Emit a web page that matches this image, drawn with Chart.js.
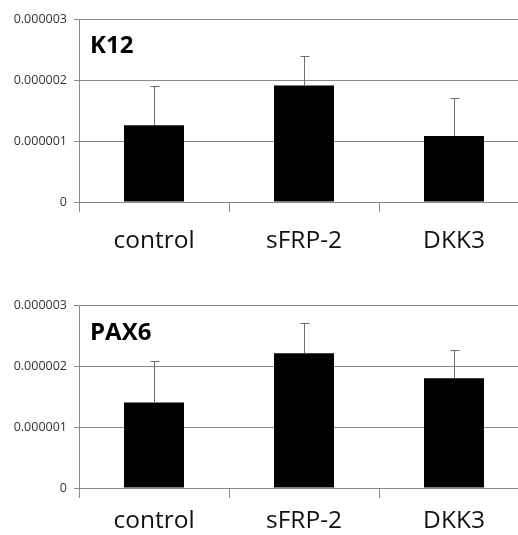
<!DOCTYPE html>
<html>
<head>
<meta charset="utf-8">
<script src="https://cdn.jsdelivr.net/npm/chart.js@4"></script>
<style>
  html, body { margin: 0; padding: 0; background: #fff; overflow: hidden; }
  .wrap { position: absolute; left: 0; }
</style>
</head>
<body>
<div class="wrap" style="top:0"><canvas id="k12" width="529" height="265"></canvas></div>
<div class="wrap" style="top:265px"><canvas id="pax6" width="529" height="270"></canvas></div>
<script>
// groups and values
const groups = ['control', 'sFRP-2', 'DKK3'];
const k12Values = [0.00000126, 0.00000191, 0.00000108];
const k12Errors = [0.00000064, 0.00000049, 0.00000062];
const pax6Values = [0.0000014, 0.00000221, 0.0000018];
const pax6Errors = [0.00000068, 0.00000049, 0.00000046];
const yTicks = [0, 0.000001, 0.000002, 0.000003];

// error bars (only upwards, like in excel)
const errorBarPlugin = {
    id: 'errorBars',
    afterDatasetsDraw(chart, args, opts) {
        const meta = chart.getDatasetMeta(0);
        const yScale = chart.scales.y;
        const ctx = chart.ctx;
        const values = chart.data.datasets[0].data;
        ctx.save();
        ctx.strokeStyle = opts.color;
        ctx.lineWidth = 1;
        meta.data.forEach((bar, i) => {
            const top = Math.round(yScale.getPixelForValue(values[i] + opts.errors[i])) + 0.5;
            const x = Math.round(bar.x) + 0.5;
            ctx.beginPath();
            ctx.moveTo(x, bar.y);
            ctx.lineTo(x, top);
            ctx.moveTo(x - 4, top);
            ctx.lineTo(x + 5, top);
            ctx.stroke();
        });
        ctx.restore();
    }
};

// gene name in the top left corner of the plot
const cornerTitlePlugin = {
    id: 'cornerTitle',
    afterDraw(chart, args, opts) {
        const ctx = chart.ctx;
        ctx.save();
        ctx.font = 'bold 24px "Open Sans"';
        ctx.fillStyle = '#000';
        ctx.textBaseline = 'alphabetic';
        ctx.fillText(opts.text, chart.chartArea.left + 11, chart.chartArea.top + opts.dy);
        ctx.restore();
    }
};

function makeChart(id, title, values, errors, axisHeight, labelPad, topPad, titleDy) {
    const ctx = document.getElementById(id);
    return new Chart(ctx, {
        type: 'bar',
        data: {
            labels: groups,
            datasets: [{
                data: values,
                backgroundColor: '#000',
                borderColor: '#000',
                borderWidth: 0,
                categoryPercentage: 1,
                barPercentage: 0.4
            }]
        },
        options: {
            responsive: false,
            animation: false,
            devicePixelRatio: 1,
            layout: { padding: { top: topPad, left: 0, right: 0, bottom: 0 } },
            plugins: {
                legend: { display: false },
                tooltip: { enabled: false },
                errorBars: { errors: errors, color: '#6e6e6e' },
                cornerTitle: { text: title, dy: titleDy }
            },
            scales: {
                x: {
                    grid: { drawOnChartArea: false, color: '#8a8a8a', tickLength: 10, offset: true },
                    border: { color: '#8a8a8a' },
                    ticks: { color: '#111', padding: labelPad, font: { family: 'Open Sans', size: 24.5 } },
                    afterFit: (scale) => { scale.height = axisHeight; }
                },
                y: {
                    min: 0,
                    max: yTicks[yTicks.length - 1],
                    afterBuildTicks: (scale) => { scale.ticks = yTicks.map(v => ({ value: v })); },
                    grid: { color: '#8a8a8a', tickLength: 5 },
                    border: { color: '#8a8a8a' },
                    ticks: {
                        color: '#333',
                        padding: 7,
                        font: { family: 'Open Sans', size: 12.5 },
                        callback: (v) => v === 0 ? '0' : v.toFixed(6)
                    },
                    afterFit: (scale) => { scale.width = 79; }
                }
            }
        },
        plugins: [errorBarPlugin, cornerTitlePlugin]
    });
}

makeChart('k12', 'K12', k12Values, k12Errors, 63, 14, 19, 34);
makeChart('pax6', 'PAX6', pax6Values, pax6Errors, 47, 8, 40, 35);
</script>
</body>
</html>
